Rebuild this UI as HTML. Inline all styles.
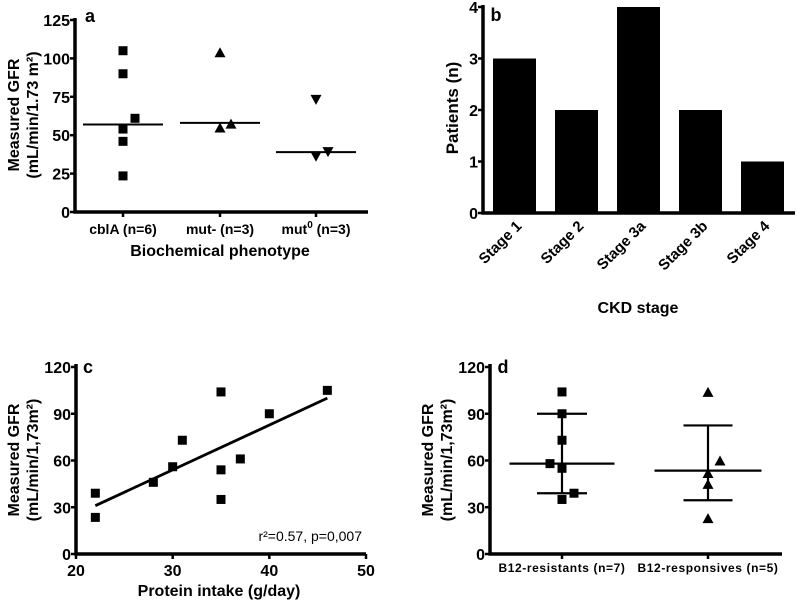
<!DOCTYPE html>
<html><head><meta charset="utf-8"><style>
html,body{margin:0;padding:0;background:#fff}
svg{display:block;font-family:"Liberation Sans",Arial,sans-serif;font-weight:bold}
</style></head><body>
<svg id="s" width="797" height="601" viewBox="0 0 797 601"></svg>
<script>
// Panel a data
const aCats=["cblA (n=6)","mut- (n=3)","mut0 (n=3)"];
const aCbl=[105,90,61,54,46,23.5];
const aCblOff=[0,0,12,0,0,0];
const aMutm=[104,55,57.5];
const aMutmOff=[0,0,11];
const aMut0=[73,36,39];
const aMut0Off=[0,0,12];
const aMedians=[57,58,39];
const aTicks=[0,25,50,75,100,125];
// Panel b data
const bCats=["Stage 1","Stage 2","Stage 3a","Stage 3b","Stage 4"];
const bVals=[3,2,4,2,1];
const bTicks=[0,1,2,3,4];
// Panel c data
const cX=[22,22,28,30,31,35,35,35,37,40,46];
const cY=[39,23.5,46,56,73,104,54,35,61,90,105];
const cFit=[[22,31],[46,100]];
const cXTicks=[20,30,40,50];
const cYTicks=[0,30,60,90,120];
// Panel d data
const dCats=["B12-resistants (n=7)","B12-responsives (n=5)"];
const dRes=[104,90,73,58,55,39,35];
const dResOff=[0,0,0,-12,0,12,0];
const dResp=[104,60,52,45,23];
const dRespOff=[0,12,0,0,0];
const dMean=[58,53.5];
const dLo=[39,34.5];
const dHi=[90,82.5];

const S=document.getElementById('s');
const NS='http://www.w3.org/2000/svg';
function el(t,a,txt){const e=document.createElementNS(NS,t);for(const k in a)e.setAttribute(k,a[k]);if(txt!==undefined)e.textContent=txt;S.appendChild(e);return e;}
function line(x1,y1,x2,y2,w,name){const e=el('line',{x1,y1,x2,y2,stroke:'#000','stroke-width':w||2});

return e;}
function text(x,y,s,size,anchor,name,extra){const a={x,y,'font-size':size,'text-anchor':anchor||'middle'};Object.assign(a,extra||{});const e=el('text',a,s);

return e;}
function square(x,y,name){const e=el('rect',{x:x-4.5,y:y-4.5,width:9,height:9,fill:'#000'});

}
function tri(x,y,down,name){const h=5;const p=down?`${x-5.5},${y-h} ${x+5.5},${y-h} ${x},${y+h}`:`${x-5.5},${y+h} ${x+5.5},${y+h} ${x},${y-h}`;
const e=el('polygon',{points:p,fill:'#000'});

}
function ytitle(x,y,lines,size,name,gap){const g=el('text',{transform:`translate(${x},${y}) rotate(-90)`,'font-size':size,'text-anchor':'middle'});


lines.forEach((l,i)=>{const t=document.createElementNS(NS,'tspan');t.setAttribute('x',0);t.setAttribute('dy',i?(gap||19):0);t.innerHTML=l;g.appendChild(t);});}

// ---- Panel a ----
{const x0=75,x1=368,y0=212,y1=20,max=125;const Y=v=>y0-(y0-y1)*v/max;const cx=[123,220,316];
line(x0,y1-2,x0,y0+1.5,3.5,'a-y-axis');line(x0-1.5,y0,x1,y0,3.5,'a-x-axis');
aTicks.forEach(t=>{line(x0-5,Y(t),x0,Y(t),2.5,'a-y-tick');text(x0-5,Y(t)+6,t,16,'end','a-y-tick-label');});
cx.forEach(c=>line(c,y0,c,y0+5,2.5,'a-x-tick'));
text(cx[0],234,aCats[0],14,'middle','a-x-label');text(cx[1],234,aCats[1],14,'middle','a-x-label');
const t3=text(cx[2],234,'',14,'middle','a-x-label');t3.innerHTML='mut<tspan dy="-6" font-size="10">0</tspan><tspan dy="6"> (n=3)</tspan>';
text(220,256,'Biochemical phenotype',16,'middle','a-x-title');
text(90,22,'a',18,'middle','panel-a-label');
ytitle(19,115,['Measured GFR','(mL/min/1.73 m²)'],16,'a-y-title');
aCbl.forEach((v,i)=>square(cx[0]+aCblOff[i],Y(v),'a-point-cbla'));
aMutm.forEach((v,i)=>tri(cx[1]+aMutmOff[i],Y(v),false,'a-point-mut-minus'));
aMut0.forEach((v,i)=>tri(cx[2]+aMut0Off[i],Y(v),true,'a-point-mut0'));
aMedians.forEach((m,i)=>line(cx[i]-40,Y(m),cx[i]+40,Y(m),2,'a-median-line'));}

// ---- Panel b ----
{const x0=483,x1=795,y0=213,y1=7,max=4;const Y=v=>y0-(y0-y1)*v/max;
bVals.forEach((v,i)=>{const cx=514.5+i*62;const e=el('rect',{x:cx-21.5,y:Y(v),width:43,height:y0-Y(v),fill:'#000'});


text(cx+8,227,bCats[i],15,'end','b-x-label',{transform:`rotate(-45 ${cx+8} 227)`});});
line(x0,y1-2,x0,y0+1.5,3.5,'b-y-axis');line(x0-1.5,y0,x1,y0,3.5,'b-x-axis');
bTicks.forEach(t=>{line(x0-5,Y(t),x0,Y(t),2.5,'b-y-tick');text(x0-5,Y(t)+6,t,16,'end','b-y-tick-label');});
text(496,21,'b',18,'middle','panel-b-label');
ytitle(458,108,['Patients (n)'],17,'b-y-title');
text(638,313,'CKD stage',16,'middle','b-x-title');}

// ---- Panel c ----
{const x0=76,x1=366,y0=554,y1=367,xmin=20,xmax=50,ymax=120;const X=v=>x0+(x1-x0)*(v-xmin)/(xmax-xmin);const Y=v=>y0-(y0-y1)*v/ymax;
line(x0,y1-3,x0,y0+1.5,3.5,'c-y-axis');line(x0-1.5,y0,x1,y0,3.5,'c-x-axis');
cYTicks.forEach(t=>{line(x0-5,Y(t),x0,Y(t),2.5,'c-y-tick');text(x0-5,Y(t)+6,t,16,'end','c-y-tick-label');});
cXTicks.forEach(t=>{line(X(t),y0,X(t),y0+5,2.5,'c-x-tick');text(X(t),576,t,16,'middle','c-x-tick-label');});
cX.forEach((x,i)=>square(X(x),Y(cY[i]),'c-point'));
line(X(cFit[0][0]),Y(cFit[0][1]),X(cFit[1][0]),Y(cFit[1][1]),2.8,'c-regression-line');
text(362,541,'r²=0.57, p=0,007',14,'end','c-stats-label',{'font-weight':'normal'});
text(219,596,'Protein intake (g/day)',16,'middle','c-x-title');
text(88,373,'c',18,'middle','panel-c-label');
ytitle(19,460,['Measured GFR','(mL/min/1,73m²)'],16,'c-y-title');}

// ---- Panel d ----
{const x0=490,x1=782,y0=554,y1=367,ymax=120;const Y=v=>y0-(y0-y1)*v/ymax;const cx=[562,708];
line(x0,y1-3,x0,y0+1.5,3.5,'d-y-axis');line(x0-1.5,y0,x1,y0,3.5,'d-x-axis');
cYTicks.forEach(t=>{line(x0-5,Y(t),x0,Y(t),2.5,'d-y-tick');text(x0-5,Y(t)+6,t,16,'end','d-y-tick-label');});
cx.forEach((c,i)=>{line(c,y0,c,y0+5,2.5,'d-x-tick');text(c,572,dCats[i],12,'middle','d-x-label',{'letter-spacing':'0.6'});});
dRes.forEach((v,i)=>square(cx[0]+dResOff[i],Y(v),'d-point-resistant'));
dResp.forEach((v,i)=>tri(cx[1]+dRespOff[i],Y(v),false,'d-point-responsive'));
const halfMean=[52.5,53.5],halfCap=[25,24.5];
cx.forEach((c,i)=>{line(c-halfMean[i],Y(dMean[i]),c+halfMean[i],Y(dMean[i]),2.2,'d-mean-line');
line(c,Y(dLo[i]),c,Y(dHi[i]),2.2,'d-error-bar');
line(c-halfCap[i],Y(dLo[i]),c+halfCap[i],Y(dLo[i]),2.2,'d-error-cap-low');
line(c-halfCap[i],Y(dHi[i]),c+halfCap[i],Y(dHi[i]),2.2,'d-error-cap-high');});
text(503,373,'d',18,'middle','panel-d-label');
ytitle(433,460,['Measured GFR','(mL/min/1,73m²)'],16,'d-y-title');}
</script>
</body></html>
